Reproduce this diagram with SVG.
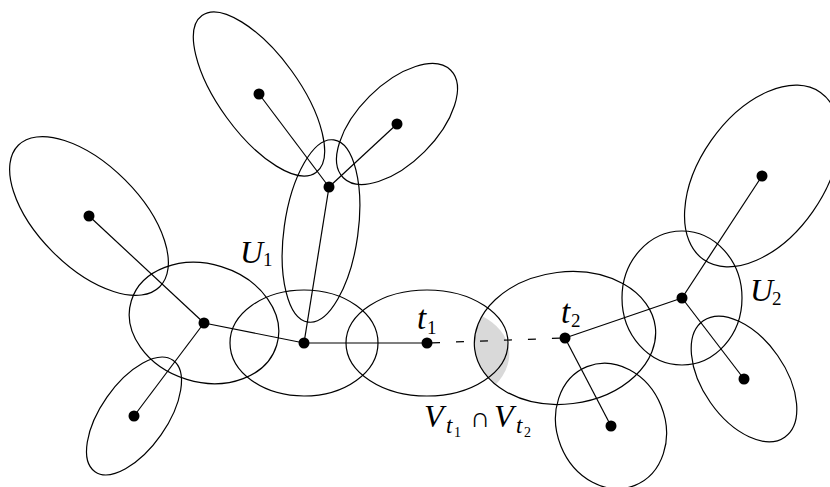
<svg xmlns="http://www.w3.org/2000/svg" width="830" height="487" viewBox="0 0 830 487">
<style>
.bag{fill:none;stroke:#000;stroke-width:1.2}
.dot{fill:#000}
.edge{stroke:#000;stroke-width:1.2;fill:none}
.dash{stroke-dasharray:8 16;stroke-dashoffset:19}
.it{font-family:"Liberation Serif","DejaVu Serif",serif;font-style:italic;fill:#000}
.rm{font-family:"Liberation Serif","DejaVu Serif",serif;fill:#000}
</style>
<defs>
<clipPath id="clipT1"><ellipse cx="427" cy="343" rx="81" ry="53"/></clipPath>
</defs>
<rect width="830" height="487" fill="#fff"/>
<g id="intersection">
<ellipse cx="565" cy="338" rx="91" ry="66" transform="rotate(-7 565 338)" clip-path="url(#clipT1)" fill="#d9d9d9"/>
</g>
<g id="nA"><ellipse class="bag" cx="259" cy="94" rx="97" ry="40" transform="rotate(54 259 94)"/><circle class="dot" cx="259" cy="94" r="5.5"/></g>
<g id="nB"><ellipse class="bag" cx="397" cy="124" rx="76" ry="39" transform="rotate(-45 397 124)"/><circle class="dot" cx="397" cy="124" r="5.5"/></g>
<g id="nC"><ellipse class="bag" cx="321" cy="231" rx="92" ry="37" transform="rotate(-82 321 231)"/><circle class="dot" cx="329" cy="187" r="5.5"/></g>
<g id="nD"><ellipse class="bag" cx="89" cy="216" rx="100" ry="51" transform="rotate(45 89 216)"/><circle class="dot" cx="89" cy="216" r="5.5"/></g>
<g id="nE"><ellipse class="bag" cx="204" cy="323" rx="76" ry="59" transform="rotate(17 204 323)"/><circle class="dot" cx="204" cy="323" r="5.5"/></g>
<g id="nF"><ellipse class="bag" cx="134" cy="416" rx="68" ry="33" transform="rotate(-55 134 416)"/><circle class="dot" cx="134" cy="416" r="5.5"/></g>
<g id="nG"><ellipse class="bag" cx="304" cy="343" rx="74" ry="53"/><circle class="dot" cx="304" cy="343" r="5.5"/></g>
<g id="nT1"><ellipse class="bag" cx="427" cy="343" rx="81" ry="53"/><circle class="dot" cx="427" cy="343" r="5.5"/></g>
<g id="nT2"><ellipse class="bag" cx="565" cy="338" rx="91" ry="66" transform="rotate(-7 565 338)"/><circle class="dot" cx="565" cy="338" r="5.5"/></g>
<g id="nH"><ellipse class="bag" cx="682" cy="298" rx="60" ry="67"/><circle class="dot" cx="682" cy="298" r="5.5"/></g>
<g id="nI"><ellipse class="bag" cx="762" cy="176" rx="102" ry="62" transform="rotate(-55 762 176)"/><circle class="dot" cx="762" cy="176" r="5.5"/></g>
<g id="nJ"><ellipse class="bag" cx="744" cy="379" rx="71" ry="41" transform="rotate(55 744 379)"/><circle class="dot" cx="744" cy="379" r="5.5"/></g>
<g id="nK"><ellipse class="bag" cx="611" cy="426" rx="64" ry="54" transform="rotate(68 611 426)"/><circle class="dot" cx="611" cy="426" r="5.5"/></g>
<g id="connectors">
<line class="edge" x1="259" y1="94" x2="329" y2="187"/>
<line class="edge" x1="397" y1="124" x2="329" y2="187"/>
<line class="edge" x1="329" y1="187" x2="304" y2="343"/>
<line class="edge" x1="89" y1="216" x2="204" y2="323"/>
<line class="edge" x1="204" y1="323" x2="134" y2="416"/>
<line class="edge" x1="204" y1="323" x2="304" y2="343"/>
<line class="edge" x1="304" y1="343" x2="427" y2="343"/>
<line class="edge dash" x1="427" y1="343" x2="565" y2="338"/>
<line class="edge" x1="565" y1="338" x2="682" y2="298"/>
<line class="edge" x1="682" y1="298" x2="762" y2="176"/>
<line class="edge" x1="682" y1="298" x2="744" y2="379"/>
<line class="edge" x1="565" y1="338" x2="611" y2="426"/>
</g>
<g id="labels">
<text class="it" x="240" y="263" font-size="32">U</text><text class="rm" x="263" y="266" font-size="19">1</text>
<text class="it" x="417" y="329" font-size="33">t</text><text class="rm" x="427" y="334" font-size="19">1</text>
<text class="it" x="561" y="323" font-size="33">t</text><text class="rm" x="571" y="327" font-size="19">2</text>
<text class="it" x="750" y="301" font-size="32">U</text><text class="rm" x="772" y="305" font-size="19">2</text>
<text class="it" x="424" y="427" font-size="32">V</text><text class="it" x="446" y="433" font-size="23">t</text><text class="rm" x="454" y="437" font-size="14">1</text>
<text class="rm" x="470" y="427" font-size="28">∩</text>
<text class="it" x="494" y="427" font-size="32">V</text><text class="it" x="516" y="433" font-size="23">t</text><text class="rm" x="524" y="437" font-size="14">2</text>
</g>
</svg>
